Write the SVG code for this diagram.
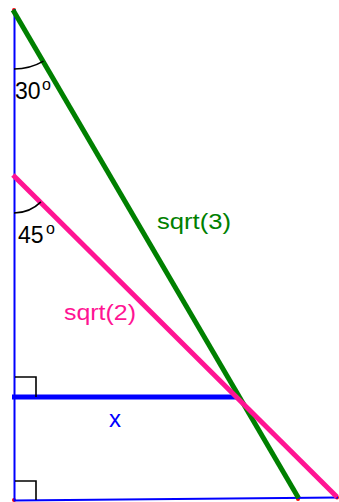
<svg xmlns="http://www.w3.org/2000/svg" width="339" height="502" viewBox="0 0 339 502">
<style>
.lbl{font-family:"Liberation Sans",Arial,sans-serif;}
.blk{fill:none;stroke:#000;stroke-width:1.6;}
.pt{fill:#ff0000;}
</style>
<rect width="339" height="502" fill="#fff"/>
<g id="points">
<circle class="pt" cx="14" cy="10" r="2"/>
<circle class="pt" cx="14" cy="500" r="2"/>
<circle class="pt" cx="298" cy="499" r="2"/>
<circle class="pt" cx="337" cy="497.5" r="2"/>
</g>
<g id="connectors">
<line id="left-side" x1="14.5" y1="9" x2="14.5" y2="501" stroke="#0000ff" stroke-width="2"/>
<line id="base" x1="14" y1="500.5" x2="338" y2="497.5" stroke="#0000ff" stroke-width="2"/>
<line id="x-line" x1="12" y1="397" x2="240" y2="397" stroke="#0000ff" stroke-width="5"/>
<line id="sqrt3-line" x1="13" y1="10" x2="298.5" y2="498" stroke="#008000" stroke-width="5"/>
<line id="sqrt2-line" x1="13" y1="175" x2="337" y2="497" stroke="#ff1493" stroke-width="5"/>
</g>
<g id="angle-30">
<path class="blk" d="M14,69 A59,59 0 0,0 43.5,61.1"/>
<text class="lbl" x="15" y="99" font-size="23" fill="#000">30<tspan x="42" y="90" font-size="16">o</tspan></text>
</g>
<g id="angle-45">
<path class="blk" d="M14,213 A38,38 0 0,0 40.9,201.9"/>
<text class="lbl" x="18" y="243" font-size="23" fill="#000">45<tspan x="46" y="234" font-size="16">o</tspan></text>
</g>
<g id="right-angle-top">
<path class="blk" d="M15,377 H36 V397"/>
</g>
<g id="right-angle-bottom">
<path class="blk" d="M15,481 H36 V500"/>
</g>
<g id="label-sqrt3">
<text class="lbl" x="157" y="229" font-size="22" fill="#008000" textLength="74" lengthAdjust="spacingAndGlyphs">sqrt(3)</text>
</g>
<g id="label-sqrt2">
<text class="lbl" x="64" y="320" font-size="22" fill="#ff1493" textLength="72" lengthAdjust="spacingAndGlyphs">sqrt(2)</text>
</g>
<g id="label-x">
<text class="lbl" x="115" y="427" font-size="24" fill="#0000ff" text-anchor="middle">x</text>
</g>
</svg>
